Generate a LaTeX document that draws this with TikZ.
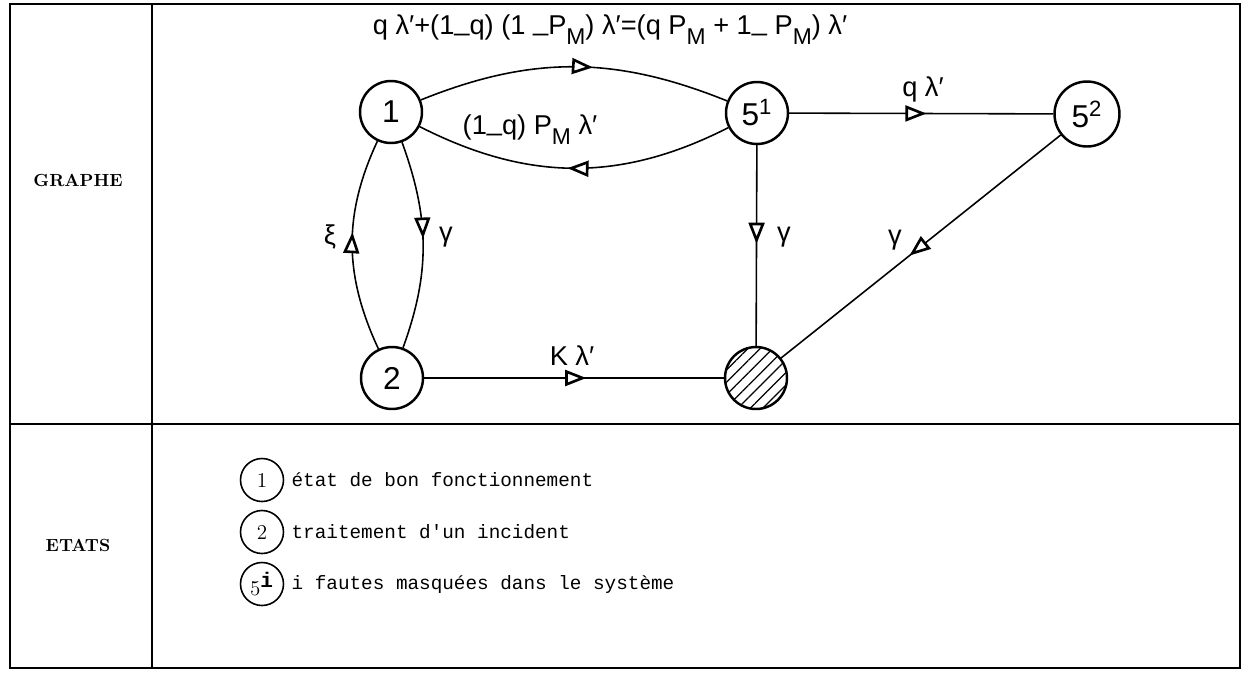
\documentclass[tikz,border=0pt]{standalone}
\usepackage{fontspec}
\usepackage{tikz}
\usetikzlibrary{arrows.meta,decorations.markings,patterns.meta,positioning}
\newfontfamily\lettrage{Liberation Sans}
\setmonofont{Liberation Mono}
\newcommand{\PM}{P\raisebox{-0.7ex}{\fontsize{13}{13}\selectfont M}}
\newcommand{\mn}{\raisebox{0.3ex}{\_}}

\tikzset{
    etat/.style={circle, draw, line width=1.4pt, minimum size=1.24cm, inner sep=0pt,
        font=\lettrage\fontsize{18}{18}\selectfont},
    legende/.style={circle, draw, line width=0.9pt, minimum size=0.86cm, inner sep=0pt,
        font=\fontsize{12}{12}\selectfont},
    trans/.style={line width=0.9pt, postaction={decorate},
        decoration={markings, mark=at position #1 with
            {\arrow{Triangle[length=12pt, width=9pt, fill=white, line width=1.5pt]}}}},
    trans/.default=0.5,
    taux/.style={inner sep=1pt, font=\lettrage\fontsize{15.5}{15.5}\selectfont},
    titre/.style={font=\bfseries\fontsize{10}{12}\selectfont},
}

\begin{document}
\begin{tikzpicture}[x=0.02cm, y=-0.02cm]
    \useasboundingbox (0,0) rectangle (1255,674);

    % Table frame
    \draw[line width=1.6pt] (10,4) rectangle (1240,668);
    \draw[line width=1.6pt] (152,4) -- (152,668);
    \draw[line width=1.6pt] (10,424) -- (1240,424);

    % Row titles
    \node[titre] (tGraphe) at (78,180) {GRAPHE};
    \node[titre] (tEtats) at (78,545) {ETATS};

    % States of the graph
    \node[etat] (e1) at (391,112) {1};
    \node[etat] (s1) at (757,113) {5\textsuperscript{1}};
    \node[etat, minimum size=1.3cm] (s2) at (1087,114) {5\textsuperscript{2}};
    \node[etat] (e2) at (392,378) {2};
    \node[etat, pattern={Lines[angle=45, distance=5pt, line width=0.7pt]}] (panne) at (756,378) {};

    % Transitions
    \draw[trans=0.56] (e1) to[out=22, in=158] (s1);
    \draw[trans=0.52] (s1) to[out=-153, in=-27] (e1);
    \draw[trans=0.47] (e1) to[out=-70, in=70] (e2);
    \draw[trans=0.56] (e2) to[out=115, in=-115] (e1);
    \draw[trans=0.52] (s1) -- (s2);
    \draw[trans=0.49] (s1) -- (panne);
    \draw[trans=0.54] (s2) -- (panne);
    \draw[trans=0.54] (e2) -- (panne);

    % Rates
    \node[taux] (lHaut) at (610,30) {q λ′+(1\mn q) (1 \mn\PM) λ′=(q \PM\ + 1\mn\ \PM) λ′};
    \node[taux] (lBas) at (530,130) {(1\mn q) \PM\ λ′};
    \node[taux] (lXi) at (330,237) {ξ};
    \node[taux] (lGa) at (446,237) {γ};
    \node[taux] (lGb) at (784,237) {γ};
    \node[taux] (lGc) at (895,240) {γ};
    \node[taux] (lQ) at (923,89) {q λ′};
    \node[taux] (lK) at (572,356) {K λ′};

    % Legend
    \foreach \k/\y/\sym/\txt in {1/480/1/{état de bon fonctionnement},
        2/532/2/{traitement d'un incident},
        3/584/{5$^{\texttt{\textbf{i}}}$}/{i fautes masquées dans le système}} {
        \node[legende] (lg\k) at (262,\y) {\sym};
        \node[right=0.14cm of lg\k, inner sep=0pt, font=\ttfamily\fontsize{11}{13}\selectfont] (lt\k) {\txt};
    }

\end{tikzpicture}
\end{document}
